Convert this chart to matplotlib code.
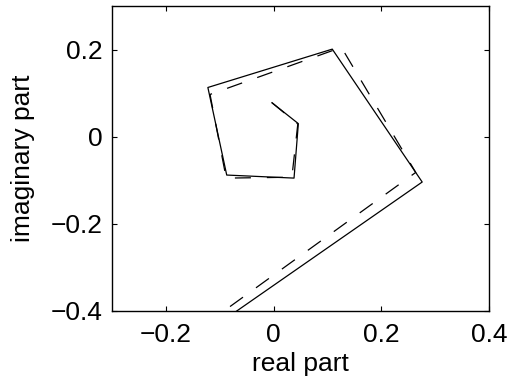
import matplotlib
matplotlib.use("Agg")
import matplotlib.pyplot as plt

plt.rcParams['font.family'] = ['Liberation Sans', 'DejaVu Sans']

# Trayectoria continua
re_solida = [-0.003, 0.046, 0.038, -0.087, -0.122, 0.109, 0.276, -0.137]
im_solida = [0.078, 0.030, -0.095, -0.088, 0.113, 0.201, -0.104, -0.459]

# Trayectoria discontinua
re_trazos = [-0.003, 0.045, 0.034, -0.088, -0.118, 0.126, 0.264, -0.164]
im_trazos = [0.078, 0.029, -0.093, -0.095, 0.097, 0.205, -0.082, -0.464]

xticks = [-0.2, 0, 0.2, 0.4]
yticks = [-0.4, -0.2, 0, 0.2]

fig = plt.figure(figsize=(5.12, 3.87), dpi=100)
ax = fig.add_axes([0.2188, 0.1964, 0.7362, 0.7881])

ax.plot(re_solida, im_solida, color='black', lw=0.9)
ax.plot(re_trazos, im_trazos, color='black', lw=0.9, dashes=(12.8, 12.8))

ax.set_xlim(-0.3, 0.4)
ax.set_ylim(-0.4, 0.3)
ax.set_xticks(xticks)
ax.set_yticks(yticks)
ax.set_xticklabels(['\u22120.2', '0', '0.2', '0.4'])
ax.set_yticklabels(['\u22120.4', '\u22120.2', '0', '0.2'])
ax.tick_params(direction='in', length=3.5, width=0.8, top=True, right=True,
               labelsize=19)
ax.tick_params(axis='x', pad=9)
ax.tick_params(axis='y', pad=7)
for s in ax.spines.values():
    s.set_linewidth(1.0)

ax.set_xlabel("real part", fontsize=19, labelpad=3)
ax.set_ylabel("imaginary part", fontsize=19, labelpad=11)

fig.savefig("out.png", dpi=100)
